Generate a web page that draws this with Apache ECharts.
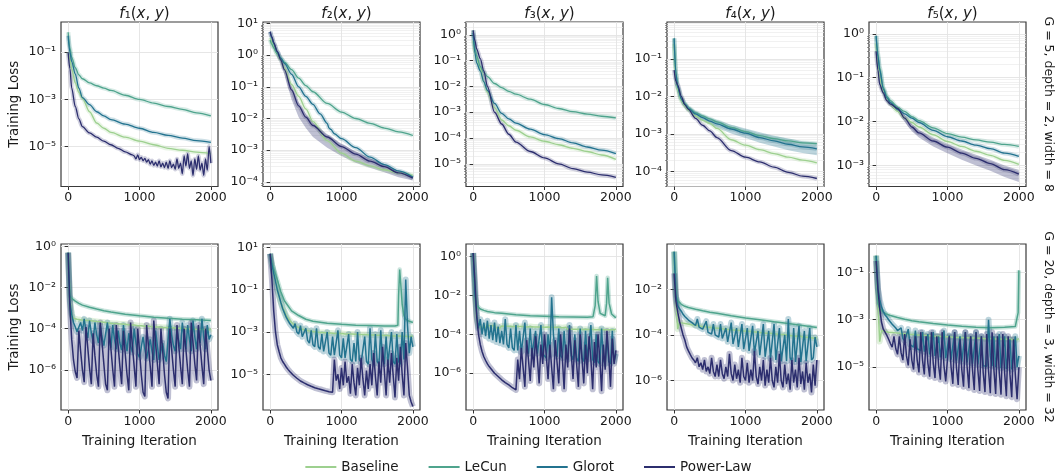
<!DOCTYPE html>
<html><head><meta charset="utf-8">
<script src="https://cdn.jsdelivr.net/npm/echarts@6/dist/echarts.min.js"></script>
<style>html,body{margin:0;padding:0;background:#fff}#c{width:1057px;height:473px}</style>
</head><body><div id="c"></div>
<script>
// ---------- DATA ----------
const seriesNames = ['Baseline', 'LeCun', 'Glorot', 'Power-Law'];
const rowLabels = ['G = 5, depth = 2, width = 8', 'G = 20, depth = 3, width = 32'];
const xTicks = [0, 1000, 2000];

const itCoarse = [0,25,50,100,150,200,300,400,500,600,800,1000,1200,1400,1600,1800,2000];
const itFine = [0,25,50,75,100,125,150,175,200,225,250,275,300,325,350,375,400,425,450,475,500,525,550,575,600,625,650,675,700,725,750,775,800,825,850,875,900,925,950,975,1000,1025,1050,1075,1100,1125,1150,1175,1200,1225,1250,1275,1300,1325,1350,1375,1400,1425,1450,1475,1500,1525,1550,1575,1600,1625,1650,1675,1700,1725,1750,1775,1800,1825,1850,1875,1900,1925,1950,1975,2000];

// y ranges (loss) and major tick values per panel: top row f1..f5, bottom row f1..f5
const yRange = [[2.04e-7,1.91],[7.1e-5,11.2],[1.32e-6,3.16],[3.98e-5,0.955],[3.3e-4,1.86],
                [1.1e-8,1.32],[2.04e-7,14.5],[1.29e-8,4.37],[5.1e-8,0.977],[1.58e-7,1.55]];
const yTicks = [[1e-1,1e-3,1e-5],[1e1,1,1e-1,1e-2,1e-3,1e-4],[1,1e-1,1e-2,1e-3,1e-4,1e-5],[1e-1,1e-2,1e-3,1e-4],[1,1e-1,1e-2,1e-3],
                [1,1e-2,1e-4,1e-6],[1e1,1e-1,1e-3,1e-5],[1,1e-2,1e-4,1e-6],[1e-2,1e-4,1e-6],[1e-1,1e-3,1e-5]];
const hasMinor = [false,true,true,true,true,false,false,false,false,false];
const minorSubs = [2,3,4,5,6,7,8,9];

// ---- top row: G=5, depth=2, width=8 ----
const t1Base   = [0.1,0.05,0.02,5e-3,2e-3,1.1e-3,3e-4,1e-4,6e-5,4e-5,2.5e-5,1.7e-5,1.2e-5,8.5e-6,7e-6,5.8e-6,5e-6];
const t1LeCun  = [0.7,0.15,0.06,0.022,0.011,7.5e-3,5e-3,3.8e-3,3e-3,2.4e-3,1.5e-3,1e-3,7e-4,5e-4,3.8e-4,2.7e-4,2e-4];
const t1Glorot = [0.5,0.1,0.04,0.012,3e-3,1.2e-3,6e-4,3e-4,2e-4,1.4e-4,9e-5,6e-5,4e-5,3e-5,2.3e-5,1.8e-5,1.5e-5];
const itPL1 = [0,25,50,100,150,200,300,400,500,600,700,800,900,925,950,975,1000,1025,1050,1075,1100,1125,1150,1175,1200,1225,1250,1275,1300,1325,1350,1375,1400,1425,1450,1475,1500,1525,1550,1575,1600,1625,1650,1675,1700,1725,1750,1775,1800,1825,1850,1875,1900,1925,1950,1975,2000];
const t1PL = [0.1,0.02,3e-3,5e-4,1.5e-4,7e-5,3.8e-5,2.5e-5,1.7e-5,1.2e-5,8.5e-6,6e-6,4.5e-6,
  4e-6,3e-6,4.5e-6,2.8e-6,3.5e-6,2.5e-6,3.2e-6,2.2e-6,2.8e-6,1.8e-6,2.5e-6,1.6e-6,2.2e-6,1.5e-6,2.5e-6,1.4e-6,2e-6,1.3e-6,2.2e-6,1.2e-6,
  2.5e-6,1.3e-6,1.8e-6,1.1e-6,3e-6,1.2e-6,2e-6,7e-7,4e-6,1.5e-6,5e-6,1.2e-6,2.5e-6,6e-7,3e-6,1.1e-6,4e-6,1e-6,2e-6,6e-7,3e-6,1e-6,1e-5,2e-6];

const t2Base   = [3.5,2.5,1.8,1.1,0.7,0.4,0.12,0.05,0.02,8e-3,2e-3,8e-4,4.5e-4,3.2e-4,2.4e-4,1.9e-4,1.6e-4];
const t2LeCun  = [3,2.2,1.7,1.1,0.8,0.6,0.35,0.19,0.11,0.07,0.03,0.016,0.01,7e-3,5e-3,3.8e-3,2.9e-3];
const itG2 = [0,25,50,100,150,200,300,400,500,600,700,800,825,850,900,1000,1200,1400,1600,1800,2000];
const t2Glorot = [5.5,3.5,2.3,1.3,0.8,0.55,0.25,0.1,0.05,0.028,0.014,7e-3,5e-3,4.5e-3,3.3e-3,2.3e-3,1.2e-3,6e-4,3.5e-4,2.2e-4,1.4e-4];
const t2PL     = [5.5,3.8,2.5,1.3,0.7,0.35,0.08,0.025,0.011,6e-3,2.6e-3,1.3e-3,7.5e-4,4.5e-4,3e-4,1.9e-4,1.3e-4];
const t2PLlo   = [5,3.4,2.2,1.1,0.55,0.25,0.04,0.011,5e-3,2.6e-3,1.2e-3,6.5e-4,4e-4,2.8e-4,2e-4,1.4e-4,1.1e-4];
const t2PLhi   = [6,4.2,2.8,1.45,0.8,0.42,0.1,0.032,0.014,7.5e-3,3.2e-3,1.6e-3,9e-4,5.5e-4,3.5e-4,2.2e-4,1.5e-4];

const t3Base   = [0.6,0.2,0.12,0.05,0.015,6e-3,1.5e-3,5e-4,3e-4,2e-4,1.1e-4,7.5e-5,5.5e-5,4e-5,3e-5,2.2e-5,1.5e-5];
const t3LeCun  = [1.5,0.3,0.15,0.06,0.035,0.024,0.013,9e-3,6.5e-3,5e-3,3.2e-3,2e-3,1.4e-3,1.05e-3,8.5e-4,7e-4,6e-4];
const t3Glorot = [1.2,0.2,0.08,0.04,0.015,7e-3,2.2e-3,9e-4,5.5e-4,3.8e-4,2.2e-4,1.35e-4,9.5e-5,6.5e-5,4.5e-5,3.4e-5,2.5e-5];
const t3PL     = [1.5,0.6,0.28,0.12,0.04,0.01,1e-3,3.5e-4,1.4e-4,7e-5,3e-5,1.7e-5,1e-5,6.5e-6,4.8e-6,3.7e-6,3e-6];

const t4Base   = [0.25,0.03,0.014,7.5e-3,5.5e-3,4.3e-3,3e-3,2.3e-3,1.9e-3,1.4e-3,7e-4,5e-4,3.8e-4,3e-4,2.4e-4,2e-4,1.7e-4];
const t4LeCun  = [0.35,0.04,0.018,9e-3,6.5e-3,5e-3,3.7e-3,3e-3,2.5e-3,2.1e-3,1.5e-3,1.15e-3,9e-4,7.5e-4,6.5e-4,5.8e-4,5.5e-4];
const t4Glorot = [0.35,0.04,0.017,8.5e-3,6e-3,4.7e-3,3.4e-3,2.7e-3,2.2e-3,1.85e-3,1.35e-3,1.05e-3,8e-4,6.5e-4,5.3e-4,4.5e-4,4e-4];
const t4GlorotLo = [0.3,0.035,0.015,7.5e-3,5.2e-3,4e-3,2.8e-3,2.2e-3,1.75e-3,1.45e-3,1.03e-3,7.8e-4,5.8e-4,4.6e-4,3.7e-4,3.1e-4,2.7e-4];
const t4GlorotHi = [0.6,0.05,0.02,1e-2,7e-3,5.5e-3,4.1e-3,3.3e-3,2.75e-3,2.35e-3,1.75e-3,1.4e-3,1.1e-3,9e-4,7.5e-4,6.4e-4,5.8e-4];
const t4PL     = [0.05,0.025,0.02,0.01,6e-3,4.5e-3,2.6e-3,1.7e-3,1.2e-3,8e-4,3.6e-4,2.4e-4,1.8e-4,1.3e-4,9.5e-5,7.5e-5,6.5e-5];

const t5Base   = [0.6,0.2,0.1,0.05,0.033,0.025,0.017,0.012,9.5e-3,7.5e-3,5e-3,3.5e-3,2.7e-3,2.1e-3,1.7e-3,1.3e-3,1.05e-3];
const t5LeCun  = [0.9,0.35,0.17,0.06,0.038,0.03,0.021,0.017,0.013,0.0105,7.2e-3,5.3e-3,4.4e-3,3.8e-3,3.4e-3,3e-3,2.7e-3];
const t5Glorot = [0.9,0.3,0.15,0.055,0.035,0.027,0.019,0.015,0.012,9.5e-3,6.3e-3,4.5e-3,3.6e-3,2.9e-3,2.4e-3,1.9e-3,1.6e-3];
const t5PL     = [0.4,0.15,0.07,0.045,0.03,0.025,0.02,0.012,7.5e-3,5.5e-3,3.6e-3,2.6e-3,1.9e-3,1.45e-3,1.1e-3,8e-4,6.3e-4];
const t5PLlo   = [0.3,0.12,0.06,0.04,0.027,0.022,0.017,0.0098,6e-3,4.3e-3,2.7e-3,1.9e-3,1.35e-3,1e-3,7.5e-4,5.4e-4,4.2e-4];
const t5PLhi   = [0.5,0.18,0.08,0.05,0.033,0.028,0.023,0.014,8.8e-3,6.5e-3,4.3e-3,3.1e-3,2.3e-3,1.75e-3,1.35e-3,1e-3,7.8e-4];

// ---- bottom row: G=20, depth=3, width=32 ----
const b1Base = [0.5,3e-3,5e-4,3.2e-4,3.8e-4,2.9e-4,3.4e-4,2.7e-4,3.1e-4,2.6e-4,
  3e-4,2.5e-4,2.9e-4,2.4e-4,2.8e-4,2.3e-4,2.6e-4,2.2e-4,2.7e-4,2.1e-4,
  2.4e-4,2e-4,2.3e-4,1.9e-4,2.3e-4,1.8e-4,2.1e-4,1.8e-4,2.2e-4,1.7e-4,
  2e-4,1.7e-4,1.9e-4,1.6e-4,1.9e-4,1.5e-4,1.8e-4,1.5e-4,1.7e-4,1.4e-4,
  1.7e-4,1.4e-4,1.6e-4,1.3e-4,1.6e-4,1.3e-4,1.5e-4,1.25e-4,1.5e-4,1.2e-4,
  1.45e-4,1.2e-4,1.4e-4,1.15e-4,1.4e-4,1.15e-4,1.35e-4,1.1e-4,1.3e-4,1.1e-4,
  1.3e-4,1.05e-4,1.3e-4,1.05e-4,1.25e-4,1e-4,1.2e-4,1e-4,1.2e-4,9.5e-5,
  1.15e-4,9.5e-5,1.15e-4,9e-5,1.1e-4,9e-5,1.1e-4,9e-5,1.05e-4,8.5e-5,1e-4];
const b1LeCun = [0.5,4e-3,3e-3,2.2e-3,1.7e-3,1.4e-3,1.1e-3,9e-4,7.5e-4,6.5e-4,5e-4,4.2e-4,3.6e-4,3.2e-4,2.9e-4,2.7e-4,2.5e-4];
const b1Glorot = [0.5,2e-3,5e-4,2e-4,1.2e-4,7e-5,6e-5,2e-4,8e-5,3e-4,
  8e-5,3.5e-5,2.5e-4,6e-5,2.5e-5,2e-4,5e-5,2e-5,1.5e-4,4e-5,
  1.5e-5,1.8e-5,2e-4,4e-5,1.2e-5,1.5e-4,3e-5,1e-5,8e-5,2e-5,
  9e-6,1.5e-4,3e-5,8e-6,6e-5,1.5e-5,7e-6,1e-4,2e-5,6e-6,
  4e-6,5e-6,4e-5,1e-5,3.5e-6,4e-6,3e-5,8e-6,3e-6,8e-5,
  1.5e-5,3e-6,3.5e-6,2e-5,5e-6,2.5e-6,3e-6,3e-4,5e-5,1.5e-5,
  8e-6,1e-4,2.5e-5,1e-5,2e-4,4e-5,1e-5,1.5e-4,3e-5,8e-6,
  2.5e-4,4e-5,1e-5,1e-4,2e-5,3e-4,4e-5,1e-5,1.5e-4,3e-5,5e-5];
const b1PL = [0.5,1e-3,3e-5,3e-6,8e-7,4e-7,8e-5,8e-6,1e-6,2.5e-7,
  1.2e-4,1.2e-5,1.2e-6,2e-7,6e-5,5e-6,6e-7,1.5e-7,2e-4,2e-5,
  2e-6,2e-7,1e-7,1e-4,1e-5,1e-6,1.5e-7,1.5e-4,1.5e-5,1.5e-6,
  2e-7,8e-5,6e-6,6e-7,1e-7,2e-4,1.5e-5,1.5e-6,1.5e-7,1e-4,
  8e-6,6e-7,8e-8,5e-8,1.5e-4,1.5e-5,1.5e-6,1.5e-7,2.5e-4,2e-5,
  2e-6,2e-7,1e-4,8e-6,6e-7,8e-8,4e-8,1e-4,1e-5,1e-6,
  1.5e-7,1.5e-4,1.5e-5,1.5e-6,2e-7,1e-4,1e-5,1e-6,1.5e-7,2e-4,
  2e-5,2e-6,3e-7,1.5e-4,1.5e-5,1.5e-6,2e-7,1e-4,1e-5,1e-6,3e-7];

const b2Base = [5,1.5,0.6,0.25,0.1,0.05,0.025,0.015,0.01,6e-3,
  4.5e-3,3.5e-3,2.8e-3,2.3e-3,2e-3,1.8e-3,1.6e-3,1.5e-3,1.35e-3,1.4e-3,
  1.2e-3,1.3e-3,1.1e-3,1.25e-3,1.05e-3,1.2e-3,1e-3,1.15e-3,9.5e-4,1.1e-3,
  9.5e-4,1.1e-3,9e-4,1.05e-3,9e-4,1.05e-3,8.5e-4,1e-3,8.5e-4,1e-3,
  8.5e-4,9.5e-4,8e-4,9.5e-4,8e-4,9.5e-4,8e-4,9e-4,7.8e-4,9e-4,
  7.5e-4,9e-4,7.5e-4,8.5e-4,7.5e-4,8.5e-4,7.2e-4,8.5e-4,7.2e-4,8.5e-4,
  7e-4,8e-4,7e-4,8e-4,6.8e-4,8e-4,6.8e-4,8e-4,6.5e-4,7.8e-4,
  6.5e-4,7.5e-4,6.5e-4,7.5e-4,6.2e-4,7.5e-4,6.2e-4,7.2e-4,6e-4,7e-4,6.5e-4];
const itL2 = [0,25,50,100,150,200,300,400,500,600,800,1000,1200,1400,1600,1750,1790,1800,1815,1830,1850,1875,1900,1950,2000];
const b2LeCun = [5,2,1,0.3,0.08,0.03,0.01,6e-3,4e-3,3.2e-3,2.6e-3,2.3e-3,2.1e-3,2e-3,1.9e-3,1.9e-3,2.1e-3,0.05,0.9,0.2,0.02,6e-3,4e-3,3.2e-3,2.8e-3];
const b2Glorot = [5,1.5,0.6,0.25,0.1,0.05,0.025,0.013,8e-3,5e-3,
  6e-3,2.5e-3,3e-3,1.5e-3,2.5e-3,1e-3,8e-4,2e-3,6e-4,5e-4,
  1.5e-3,4e-4,3e-4,1.2e-3,2.5e-4,2e-4,1.5e-3,2e-4,1.5e-4,8e-4,
  1.2e-4,1e-4,1e-3,1e-4,8e-5,6e-4,8e-5,7e-5,1.2e-3,8e-5,
  6e-5,5e-4,6e-5,5e-5,8e-4,5e-5,4e-5,3e-4,4e-5,1e-3,
  5e-5,3.5e-5,3e-5,6e-4,4e-5,3e-5,1.5e-3,5e-5,3e-5,8e-4,
  4e-5,3e-5,1.2e-3,5e-5,3e-5,6e-4,3.5e-5,3e-5,1e-3,4e-5,
  3e-5,8e-4,4e-5,3e-5,1e-3,5e-5,0.3,2e-3,1e-4,6e-4,2e-4];
const b2PL = [5,0.3,0.01,1e-3,2.5e-4,1.2e-4,6e-5,4e-5,3e-5,2.2e-5,
  1.7e-5,1.35e-5,1.1e-5,9e-6,7.5e-6,6.5e-6,5.5e-6,4.8e-6,4.3e-6,3.9e-6,
  3.5e-6,3.2e-6,2.9e-6,2.7e-6,2.5e-6,2.3e-6,2.15e-6,2.05e-6,1.95e-6,1.85e-6,
  1.75e-6,1.65e-6,1.6e-6,1.5e-6,1.45e-6,1.4e-6,5e-5,5e-6,1e-5,2e-6,
  2e-5,3e-6,4e-5,4e-6,8e-6,1.2e-6,3e-5,4e-6,1e-6,2e-5,
  3e-6,6e-5,6e-6,1e-6,1.5e-5,2e-6,3e-5,3e-6,1e-4,8e-6,
  1e-6,4e-5,4e-6,2e-4,1.5e-5,1e-6,5e-5,4e-6,1e-4,8e-6,
  8e-7,6e-5,5e-6,2e-4,1e-5,1e-6,3e-4,2e-5,1e-6,5e-7,3e-7];

const b3Base = [1.5,0.01,6e-4,2.5e-4,3e-4,2.3e-4,2.8e-4,2.2e-4,2.9e-4,2.3e-4,
  2.7e-4,2.2e-4,2.8e-4,2.2e-4,2.6e-4,2.1e-4,2.7e-4,2.2e-4,2.6e-4,2.1e-4,
  2.6e-4,2.1e-4,2.5e-4,2e-4,2.6e-4,2.1e-4,2.5e-4,2e-4,2.5e-4,2.1e-4,
  2.4e-4,2e-4,2.5e-4,2e-4,2.4e-4,1.95e-4,2.4e-4,2e-4,2.4e-4,1.9e-4,
  2.3e-4,1.9e-4,2.4e-4,1.9e-4,2.3e-4,1.9e-4,2.3e-4,1.85e-4,2.3e-4,1.9e-4,
  2.2e-4,1.85e-4,2.3e-4,1.8e-4,2.2e-4,1.8e-4,2.2e-4,1.8e-4,2.2e-4,1.8e-4,
  2.1e-4,1.75e-4,2.2e-4,1.8e-4,2.1e-4,1.75e-4,2.1e-4,1.75e-4,2.1e-4,1.7e-4,
  2.1e-4,1.75e-4,2e-4,1.7e-4,2.1e-4,1.7e-4,2e-4,1.7e-4,2e-4,1.7e-4,1.9e-4];
const itL3 = [0,25,50,100,150,200,300,400,500,600,800,1000,1200,1400,1600,1680,1710,1730,1750,1780,1850,1870,1885,1905,1940,2000];
const b3LeCun = [1.5,0.02,3e-3,2e-3,1.7e-3,1.5e-3,1.3e-3,1.2e-3,1.1e-3,1e-3,9e-4,8.5e-4,8e-4,7.8e-4,7.5e-4,8e-4,3e-3,0.1,5e-3,1.2e-3,9e-4,4e-3,0.08,4e-3,1.1e-3,7e-4];
const b3Glorot = [1.5,0.01,1e-3,2e-4,6e-4,1e-4,4e-4,8e-5,5e-4,6e-5,
  3e-4,5e-5,4e-4,4e-5,2.5e-4,3.5e-5,1.5e-4,3e-5,6e-4,3e-5,
  2e-5,2e-4,2e-5,1.5e-5,3e-4,1.5e-5,1.5e-4,1.2e-5,1e-5,4e-4,
  1.5e-5,1e-5,2e-4,1e-5,8e-6,1.5e-4,1e-5,8e-6,3e-4,1e-5,
  8e-6,6e-6,1e-4,8e-6,8e-3,1e-4,1e-5,7e-6,2e-4,8e-6,
  6e-6,1.5e-4,7e-6,5e-6,3e-4,8e-6,5e-6,1e-4,6e-6,4e-6,
  2e-4,6e-6,4e-6,1.5e-4,5e-6,4e-6,3e-4,5e-6,3.5e-6,1e-4,
  4e-6,3e-6,2e-4,5e-6,3e-6,1e-4,4e-6,3e-6,1.5e-4,4e-6,1e-5];
const b3PL = [1.5,0.05,8e-4,1e-4,3e-5,1.3e-5,7e-6,4.5e-6,3e-6,2.2e-6,
  1.7e-6,1.3e-6,1e-6,8.3e-7,6.8e-7,5.6e-7,4.6e-7,3.9e-7,3.3e-7,2.9e-7,
  2.5e-7,2.1e-7,1.8e-7,1.6e-7,1.4e-7,5e-6,5e-7,2e-5,2e-6,2e-7,
  5e-5,5e-6,4e-7,2e-5,2e-6,8e-5,6e-6,3e-7,3e-5,3e-6,
  1e-4,8e-6,5e-7,3e-5,2e-6,1.5e-7,5e-5,4e-6,3e-7,1e-4,
  6e-6,1.5e-7,3e-5,2e-6,2e-4,1e-5,5e-7,5e-5,3e-6,2e-7,
  1e-4,6e-6,3e-7,3e-5,1e-6,8e-5,5e-6,1.5e-7,4e-5,2e-6,
  1e-4,5e-6,1.2e-7,3e-5,1.5e-6,1.5e-4,8e-6,2e-7,6e-5,3e-6,1.5e-5];

const b4Base = [0.45,3e-3,1.8e-4,3.5e-4,4e-4,3.3e-4,3.8e-4,3.1e-4,3.5e-4,2.9e-4,
  3.3e-4,2.7e-4,3.1e-4,2.6e-4,2.9e-4,2.4e-4,2.8e-4,2.3e-4,2.6e-4,2.2e-4,
  2.5e-4,2.1e-4,2.4e-4,2e-4,2.3e-4,1.95e-4,2.2e-4,1.85e-4,2.1e-4,1.8e-4,
  2e-4,1.7e-4,1.95e-4,1.65e-4,1.9e-4,1.6e-4,1.8e-4,1.55e-4,1.75e-4,1.5e-4,
  1.7e-4,1.45e-4,1.65e-4,1.4e-4,1.6e-4,1.35e-4,1.55e-4,1.3e-4,1.5e-4,1.25e-4,
  1.45e-4,1.2e-4,1.4e-4,1.2e-4,1.35e-4,1.15e-4,1.3e-4,1.1e-4,1.3e-4,1.05e-4,
  1.25e-4,1.05e-4,1.2e-4,1e-4,1.15e-4,9.5e-5,1.1e-4,9e-5,1.1e-4,8.5e-5,
  1.05e-4,8.5e-5,1e-4,8e-5,9.5e-5,8e-5,9e-5,7.5e-5,9e-5,7e-5,8e-5];
const b4LeCun = [0.45,6e-3,3.2e-3,2.2e-3,1.8e-3,1.6e-3,1.35e-3,1.15e-3,1e-3,9e-4,7e-4,5.5e-4,4.6e-4,3.8e-4,3.2e-4,2.6e-4,2.1e-4];
const b4Glorot = [0.45,5e-3,2e-3,1.4e-3,1.1e-3,8e-4,6.5e-4,5.5e-4,4.5e-4,4e-4,
  3.5e-4,3e-4,2.6e-4,5e-4,2.2e-4,2e-4,1.8e-4,1.6e-4,4e-4,1.3e-4,
  1.2e-4,1.1e-4,3e-4,1e-4,9e-5,8e-5,3e-4,7e-5,6e-5,2e-4,
  5e-5,4.5e-5,3.5e-4,4e-5,3.6e-5,2e-4,3e-5,2.8e-5,3e-4,2.4e-5,
  2.2e-5,2e-4,2e-5,1.8e-5,2.5e-4,1.6e-5,1.5e-5,1.5e-4,1.3e-5,1.2e-5,
  3e-4,1.1e-5,1e-5,1.5e-4,9e-6,8.5e-6,3e-4,8e-6,7.5e-6,2e-4,
  7e-6,7e-6,1e-4,7e-6,5e-4,1e-5,7e-6,2e-4,6.5e-6,6.5e-6,
  2.5e-4,6.5e-6,6.5e-6,1.5e-4,7e-6,7e-6,2e-4,8e-6,1e-5,8e-5,3e-5];
const b4PL = [0.05,3e-3,1e-3,4e-4,2e-4,1e-4,6e-5,3e-5,2e-5,1.4e-5,
  1e-5,8e-6,6e-6,1e-5,4e-6,6e-6,3e-6,8e-6,2.5e-6,4e-6,
  2e-6,1e-5,2.5e-6,1.5e-6,5e-6,1.5e-6,8e-6,2e-6,1.2e-6,4e-6,
  1.5e-6,1.5e-5,2e-6,1e-6,5e-6,1.2e-6,3e-6,8e-7,1e-5,1.5e-6,
  1e-6,6e-6,8e-7,3e-6,1e-6,2e-5,1.5e-6,7e-7,4e-6,1e-6,
  8e-6,6e-7,3e-6,8e-7,1e-5,1e-6,5e-7,4e-6,8e-7,1.5e-5,
  1e-6,5e-7,5e-6,7e-7,2e-6,4e-7,8e-6,8e-7,3e-6,5e-7,
  1e-5,7e-7,2.5e-6,4e-7,6e-6,8e-7,2e-6,3e-7,5e-6,6e-7,8e-6];

const b5Base = [0.5,5e-3,1.2e-4,3.5e-4,3.8e-4,3.2e-4,3.6e-4,3e-4,3.4e-4,2.9e-4,
  3.3e-4,2.8e-4,3.2e-4,2.7e-4,3.1e-4,2.6e-4,3e-4,2.5e-4,2.9e-4,2.4e-4,
  2.8e-4,2.4e-4,2.7e-4,2.3e-4,2.6e-4,2.2e-4,2.6e-4,2.2e-4,2.5e-4,2.1e-4,
  2.5e-4,2.1e-4,2.4e-4,2e-4,2.3e-4,2e-4,2.3e-4,1.95e-4,2.25e-4,1.9e-4,
  2.2e-4,1.9e-4,2.2e-4,1.85e-4,2.1e-4,1.8e-4,2.1e-4,1.8e-4,2.05e-4,1.75e-4,
  2e-4,1.75e-4,2e-4,1.7e-4,1.95e-4,1.7e-4,1.95e-4,1.65e-4,1.9e-4,1.65e-4,
  1.9e-4,1.6e-4,1.85e-4,1.6e-4,1.85e-4,1.6e-4,1.8e-4,1.55e-4,1.8e-4,1.55e-4,
  1.75e-4,1.5e-4,1.75e-4,1.5e-4,1.7e-4,1.5e-4,1.7e-4,1.45e-4,1.7e-4,1.45e-4,1.6e-4];
const itL5 = [0,25,50,100,150,200,300,400,500,600,800,1000,1200,1400,1600,1800,1950,1975,1990,2000];
const b5LeCun = [0.5,5e-3,3e-3,2.1e-3,1.7e-3,1.5e-3,1.25e-3,1.05e-3,9e-4,8.2e-4,7e-4,6e-4,5.3e-4,4.8e-4,4.6e-4,4.8e-4,5.2e-4,6e-4,2e-3,0.12];
const b5Glorot = [0.5,0.02,7e-3,3.5e-3,2.2e-3,1.6e-3,1.3e-3,1e-3,8e-4,6.5e-4,
  5.5e-4,4.5e-4,3.5e-4,3e-4,4.5e-4,1.6e-4,1.3e-4,1.1e-4,4e-4,9e-5,
  8e-5,7e-5,3.5e-4,6e-5,5.5e-5,5e-5,3e-4,4.5e-5,4e-5,2.5e-4,
  3.5e-5,3.2e-5,3e-4,3e-5,2.8e-5,2e-4,2.6e-5,2.5e-5,3.5e-4,2.4e-5,
  2.3e-5,2.2e-4,2.1e-5,2e-5,3e-4,1.9e-5,1.8e-5,2e-4,1.7e-5,1.7e-5,
  3e-4,1.6e-5,1.5e-5,2e-4,1.4e-5,1.3e-5,3e-4,1.3e-5,1.2e-5,2e-4,
  1.15e-5,1.1e-5,1.1e-5,1e-3,3e-5,1.1e-5,2e-4,1e-5,9.5e-6,2.5e-4,
  9e-6,8.5e-6,2e-4,8.5e-6,8e-6,1.5e-4,8e-6,8e-6,2e-4,1e-5,3e-5];
const b5PL = [0.3,0.02,3e-3,8e-4,4e-4,3e-4,2.2e-4,1.5e-4,1e-4,7e-5,
  2e-4,6e-5,3.5e-5,2e-4,4e-5,2e-5,2.5e-4,3e-5,1.2e-5,1.5e-4,
  2e-5,8e-6,2e-4,2e-5,6e-6,3e-4,2e-5,5e-6,2e-4,1.5e-5,
  4e-6,3e-4,1.5e-5,3.5e-6,2e-4,1.2e-5,3e-6,3e-4,1.2e-5,2.5e-6,
  2.3e-6,2e-4,1e-5,2e-6,3e-4,1e-5,1.8e-6,1.5e-4,8e-6,1.5e-6,
  3e-4,1e-5,1.3e-6,2e-4,8e-6,1.1e-6,3e-4,8e-6,1e-6,2e-4,
  6e-6,9e-7,2.5e-4,7e-6,8e-7,3e-4,8e-6,7.5e-7,2e-4,6e-6,
  7e-7,2.5e-4,6e-6,6e-7,2e-4,5e-6,5.5e-7,1.5e-4,5e-6,4.5e-7,1e-5];

// ---------- STRUCTURE ----------
const panelLines = [
  [[itCoarse,t1Base],[itCoarse,t1LeCun],[itCoarse,t1Glorot],[itPL1,t1PL]],
  [[itCoarse,t2Base],[itCoarse,t2LeCun],[itG2,t2Glorot],[itCoarse,t2PL]],
  [[itCoarse,t3Base],[itCoarse,t3LeCun],[itCoarse,t3Glorot],[itCoarse,t3PL]],
  [[itCoarse,t4Base],[itCoarse,t4LeCun],[itCoarse,t4Glorot],[itCoarse,t4PL]],
  [[itCoarse,t5Base],[itCoarse,t5LeCun],[itCoarse,t5Glorot],[itCoarse,t5PL]],
  [[itFine,b1Base],[itCoarse,b1LeCun],[itFine,b1Glorot],[itFine,b1PL]],
  [[itFine,b2Base],[itL2,b2LeCun],[itFine,b2Glorot],[itFine,b2PL]],
  [[itFine,b3Base],[itL3,b3LeCun],[itFine,b3Glorot],[itFine,b3PL]],
  [[itFine,b4Base],[itCoarse,b4LeCun],[itFine,b4Glorot],[itFine,b4PL]],
  [[itFine,b5Base],[itL5,b5LeCun],[itFine,b5Glorot],[itFine,b5PL]]
];
// bands: [panel, seriesIndex, x, lo, hi]
const panelBands = [
  [1, 3, itCoarse, t2PLlo, t2PLhi],
  [3, 2, itCoarse, t4GlorotLo, t4GlorotHi],
  [4, 3, itCoarse, t5PLlo, t5PLhi]
];

// ---------- STYLE / LAYOUT ----------
const COLORS = ['#9dd08f', '#4fa48d', '#23738f', '#2c2e6e'];
const FONT = 'DejaVu Sans';
const TXT = '#1a1a1a';
const gridLeft = [61, 263, 466, 667, 869];
const gridW = 157;
const rowTop = [22, 244];
const rowH = [164.5, 166];

const SUP = {'-':'\u207B','0':'\u2070','1':'\u00B9','2':'\u00B2','3':'\u00B3','4':'\u2074','5':'\u2075','6':'\u2076','7':'\u2077','8':'\u2078','9':'\u2079'};
function logLabel(v) {
  const e = Math.round(Math.log10(v));
  return '10' + String(e).split('').map(c => SUP[c]).join('');
}
function pairs(x, y) { return x.map((v, i) => [v, y[i]]); }
function hexA(hex, a) {
  const n = parseInt(hex.slice(1), 16);
  return 'rgba(' + (n >> 16 & 255) + ',' + (n >> 8 & 255) + ',' + (n & 255) + ',' + a + ')';
}

const grids = [], xAxes = [], yAxes = [], series = [], titles = [];
for (let p = 0; p < 10; p++) {
  const row = Math.floor(p / 5), col = p % 5;
  grids.push({left: gridLeft[col], top: rowTop[row], width: gridW, height: rowH[row],
    show: true, borderColor: '#3a3a3a', borderWidth: 1.2, backgroundColor: 'transparent', containLabel: false});
  xAxes.push({type: 'value', gridIndex: p, min: -100, max: 2100,
    axisLine: {show: false},
    axisTick: {show: true, customValues: xTicks, length: 3.5, lineStyle: {color: '#333', width: 1}},
    axisLabel: {customValues: xTicks, formatter: v => String(v), fontFamily: FONT, fontSize: 12.5, color: TXT, margin: 5},
    splitLine: {show: true, lineStyle: {color: '#e3e3e3', width: 0.9}},
    name: row === 1 ? 'Training Iteration' : '', nameLocation: 'middle', nameGap: 24,
    nameTextStyle: {fontFamily: FONT, fontSize: 13.5, color: TXT}});
  const [ymin, ymax] = yRange[p];
  yAxes.push({type: 'log', logBase: 10, gridIndex: p, min: ymin, max: ymax, position: 'left',
    axisLine: {show: false},
    axisTick: {show: true, customValues: yTicks[p], length: 3.5, lineStyle: {color: '#333', width: 1}},
    axisLabel: {customValues: yTicks[p], formatter: logLabel, fontFamily: FONT, fontSize: 12.5, color: TXT, margin: 5},
    splitLine: {show: true, lineStyle: {color: '#e3e3e3', width: 0.9}},
    name: col === 0 ? 'Training Loss' : '', nameLocation: 'middle', nameGap: 40, nameRotate: 90,
    nameTextStyle: {fontFamily: FONT, fontSize: 13.5, color: TXT}});
  const minors = [];
  if (hasMinor[p]) {
    for (let k = Math.floor(Math.log10(ymin)); k <= Math.ceil(Math.log10(ymax)); k++) {
      minorSubs.forEach(m => { const v = m * Math.pow(10, k); if (v > ymin && v < ymax) minors.push(v); });
    }
  }
  yAxes.push({type: 'log', logBase: 10, gridIndex: p, min: ymin, max: ymax, position: 'left', offset: 0,
    show: hasMinor[p],
    axisLine: {show: false},
    axisTick: {show: hasMinor[p], customValues: minors.length ? minors : [ymin], length: 2, lineStyle: {color: '#555', width: 0.6}},
    axisLabel: {show: false},
    splitLine: {show: hasMinor[p], lineStyle: {color: '#ebebeb', width: 0.7}}});

  if (row === 0) {
    titles.push({text: '{i|f}{n|' + ['\u2081','\u2082','\u2083','\u2084','\u2085'][col] + '(}{i|x}{n|, }{i|y}{n|)}',
      left: gridLeft[col] + gridW / 2, top: 2, textAlign: 'center',
      textStyle: {fontWeight: 'normal', rich: {
        i: {fontFamily: FONT, fontStyle: 'italic', fontWeight: 'normal', fontSize: 15, color: TXT},
        n: {fontFamily: FONT, fontWeight: 'normal', fontSize: 15, color: TXT}}}});
  }

  // spread bands drawn through the axes' own coordinate mapping
  panelBands.filter(b => b[0] === p).forEach(b => {
    const [, si, bx, lo, hi] = b;
    series.push({type: 'custom', xAxisIndex: p, yAxisIndex: 2 * p, silent: true, animation: false, z: 1,
      data: bx.map((v, i) => [v, lo[i], hi[i]]),
      encode: {x: 0, y: [1, 2]},
      renderItem: (params, api) => {
        if (params.dataIndex !== 0) return null;
        const up = bx.map((v, i) => api.coord([v, hi[i]]));
        const dn = bx.map((v, i) => api.coord([v, lo[i]])).reverse();
        return {type: 'polygon', shape: {points: up.concat(dn)}, style: {fill: hexA(COLORS[si], 0.3)}};
      }});
  });
  // halos (thin spread around each run)
  panelLines[p].forEach((ln, j) => {
    const noisy = row === 1 && j !== 1;
    series.push({type: 'line', name: seriesNames[j] + ' spread', xAxisIndex: p, yAxisIndex: 2 * p,
      data: pairs(ln[0], ln[1]), symbol: 'none', smooth: row === 0 ? 0.3 : false, smoothMonotone: 'x',
      lineStyle: {color: hexA(COLORS[j], row === 0 ? 0.22 : 0.3), width: row === 0 ? 4.5 : (noisy ? 6 : 4.5), join: 'round'},
      silent: true, animation: false, z: 2});
  });
  // main lines
  panelLines[p].forEach((ln, j) => {
    series.push({type: 'line', name: seriesNames[j], xAxisIndex: p, yAxisIndex: 2 * p,
      data: pairs(ln[0], ln[1]), symbol: 'none', showSymbol: false, smooth: row === 0 ? 0.3 : false, smoothMonotone: 'x',
      lineStyle: {color: COLORS[j], width: row === 0 ? 1.3 : 1.5}, itemStyle: {color: COLORS[j]},
      silent: true, animation: false, z: 3});
  });
}

const graphics = rowLabels.map((t, r) => ({
  type: 'text', x: 1048, y: rowTop[r] + rowH[r] / 2, rotation: -Math.PI / 2,
  style: {text: t, fontFamily: FONT, fontSize: 12.5, fill: TXT, align: 'center', verticalAlign: 'middle',
          textAlign: 'center', textVerticalAlign: 'middle'}
}));

const chart = echarts.init(document.getElementById('c'), null, {renderer: 'canvas', width: 1057, height: 473});
chart.setOption({
  backgroundColor: '#ffffff',
  animation: false,
  title: titles,
  grid: grids,
  xAxis: xAxes,
  yAxis: yAxes,
  legend: {
    data: seriesNames.map((n, j) => ({name: n, icon: 'rect', itemStyle: {color: COLORS[j]}})),
    left: 'center', top: 455, itemWidth: 31, itemHeight: 2, itemGap: 30,
    textStyle: {fontFamily: FONT, fontSize: 13.5, color: TXT}, selectedMode: false
  },
  graphic: graphics,
  series: series
});
</script></body></html>
